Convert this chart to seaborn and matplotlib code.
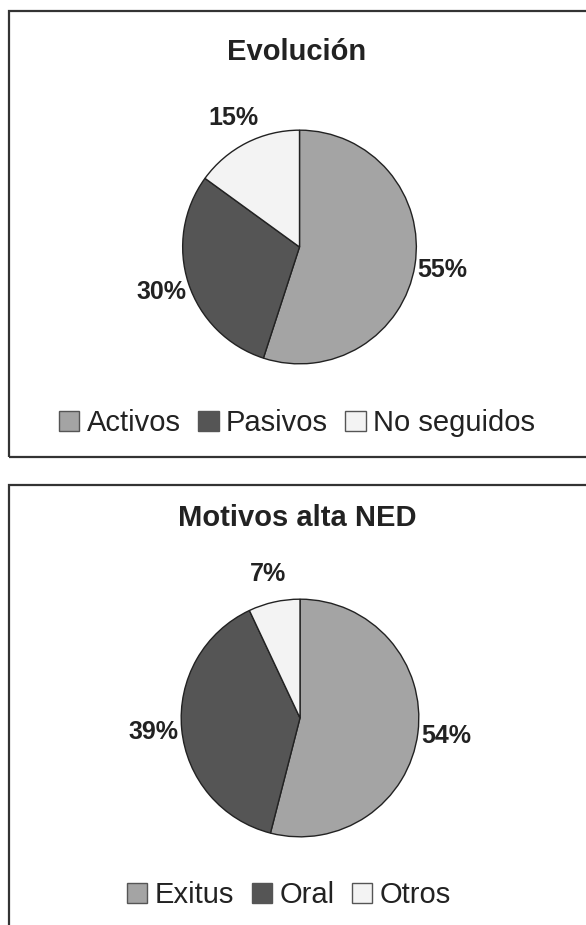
import matplotlib
matplotlib.use("Agg")
import matplotlib.pyplot as plt
import seaborn as sns
from matplotlib.patches import Patch, Rectangle

# datos
evol_labels = ["Activos", "Pasivos", "No seguidos"]
evol_values = [55, 30, 15]
ned_labels = ["Exitus", "Oral", "Otros"]
ned_values = [54, 39, 7]
colores = ["#a4a4a4", "#555555", "#f3f3f3"]

sns.set_theme(style="white")
plt.rcParams['font.family'] = ['Liberation Sans', 'DejaVu Sans']

W, H = 586, 925
fig = plt.figure(figsize=(W / 100, H / 100), dpi=100)


def px(x, y):
    # pixel (desde arriba) -> fraccion de figura
    return x / W, 1 - y / H


def panel(top, bottom, titulo, ty, cx, cy, r, labels, values, ly, lx):
    # marco del panel
    x0, y0 = px(9, bottom)
    fig.patches.append(Rectangle((x0, y0), 1.2, (bottom - top) / H,
                                 transform=fig.transFigure, fill=False,
                                 edgecolor="#333333", lw=1.6))
    tx, tyf = px(297, ty)
    fig.text(tx, tyf, titulo, ha="center", va="center",
             fontsize=21, fontweight="bold", color="#222222")

    ax = fig.add_axes([(cx - r) / W, 1 - (cy + r) / H, 2 * r / W, 2 * r / H])
    wedges, _, autotexts = ax.pie(values, colors=colores, startangle=90,
                                  counterclock=False, autopct='%1.0f%%',
                                  pctdistance=1.24,
                                  wedgeprops=dict(edgecolor="#222222", lw=1.0))
    for t in autotexts:
        t.set_fontsize(18)
        t.set_fontweight("bold")
        t.set_color("#222222")
    ax.set_xlim(-1.01, 1.01)
    ax.set_ylim(-1.01, 1.01)
    ax.set_aspect("equal")
    ax.axis("off")

    handles = [Patch(facecolor=c, edgecolor="#555555", lw=1.0) for c in colores]
    lxf, lyf = px(lx, ly)
    ax.legend(handles, labels, loc="center", bbox_to_anchor=(lxf, lyf),
              bbox_transform=fig.transFigure, ncol=3, frameon=False,
              fontsize=21, handlelength=0.7, handleheight=0.7,
              handletextpad=0.25, columnspacing=0.6, labelcolor="#222222")


panel(11, 457, "Evolución", 52, 299.5, 247, 118, evol_labels, evol_values, 423, 297)
panel(485, 940, "Motivos alta NED", 518, 300, 718, 120, ned_labels, ned_values, 895, 289)

plt.savefig("out.png", dpi=100)
